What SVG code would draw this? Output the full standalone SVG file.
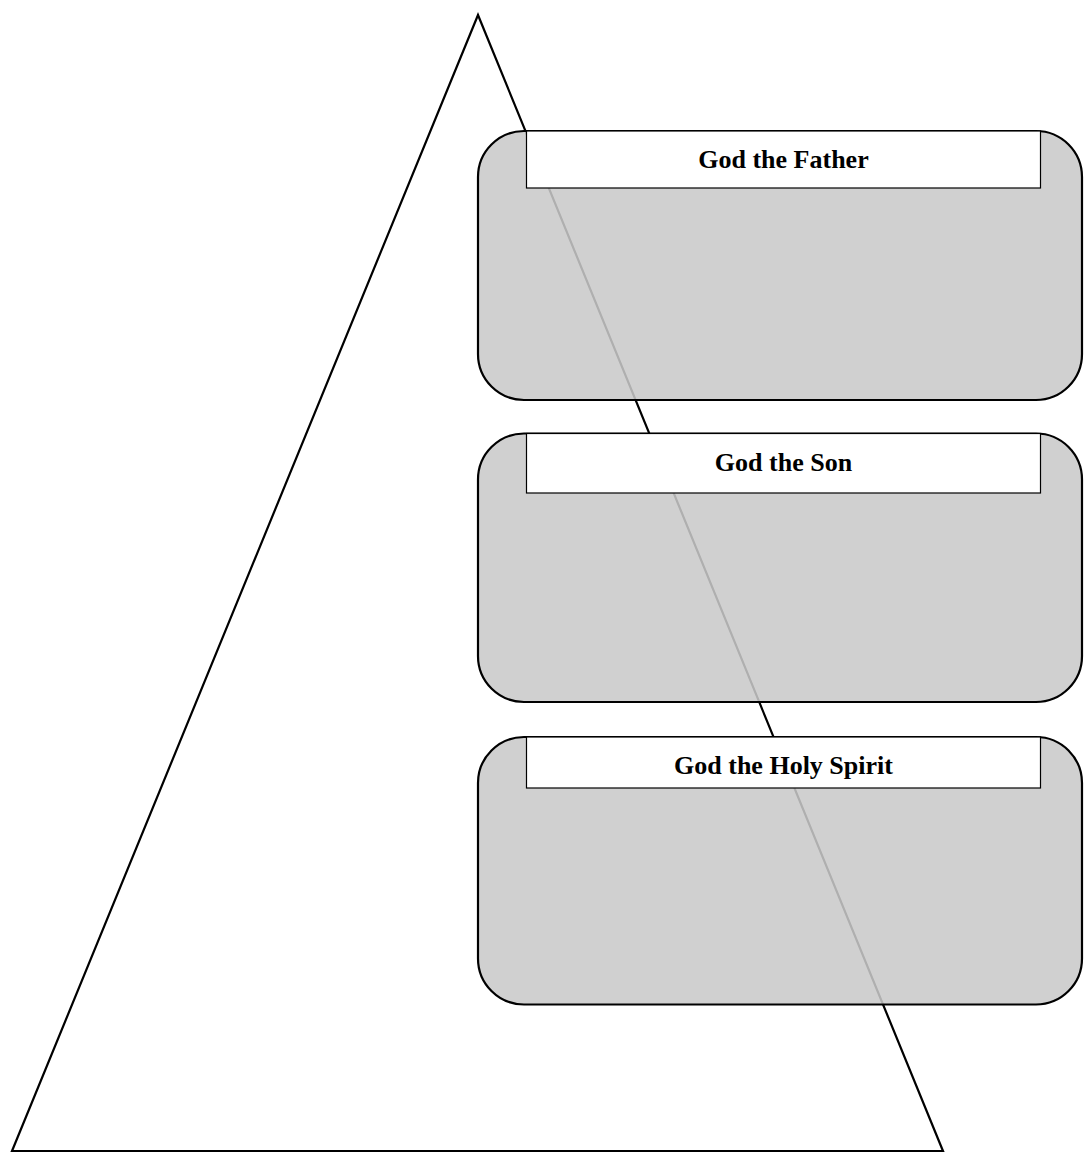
<svg xmlns="http://www.w3.org/2000/svg" width="1086" height="1162" viewBox="0 0 1086 1162">
<style>
.panel{fill:#c9c9c9;fill-opacity:0.87;stroke:#000;stroke-width:2.2}
.head{fill:#fff;stroke:#000;stroke-width:1.2}
.lbl{font-family:"Liberation Serif","Times New Roman",serif;font-weight:bold;font-size:26px;fill:#000;text-anchor:middle}
</style>
<rect width="1086" height="1162" fill="#fff"/>
<g id="triangle">
<polygon points="478,15 12,1151 943,1151" fill="none" stroke="#000" stroke-width="2.2" stroke-linejoin="miter"/>
</g>
<g id="connectors"></g>
<g id="father">
<rect class="panel" x="478" y="131" width="604" height="269" rx="46" ry="46"/>
<rect class="head" x="526.5" y="131" width="514" height="57"/>
<text class="lbl" x="783.5" y="168">God the Father</text>
</g>
<g id="son">
<rect class="panel" x="478" y="433.5" width="604" height="268.5" rx="46" ry="46"/>
<rect class="head" x="526.5" y="433.5" width="514" height="59.5"/>
<text class="lbl" x="783.5" y="471">God the Son</text>
</g>
<g id="spirit">
<rect class="panel" x="478" y="737" width="604" height="267.5" rx="46" ry="46"/>
<rect class="head" x="526.5" y="737" width="514" height="51"/>
<text class="lbl" x="783.5" y="774">God the Holy Spirit</text>
</g>
</svg>
